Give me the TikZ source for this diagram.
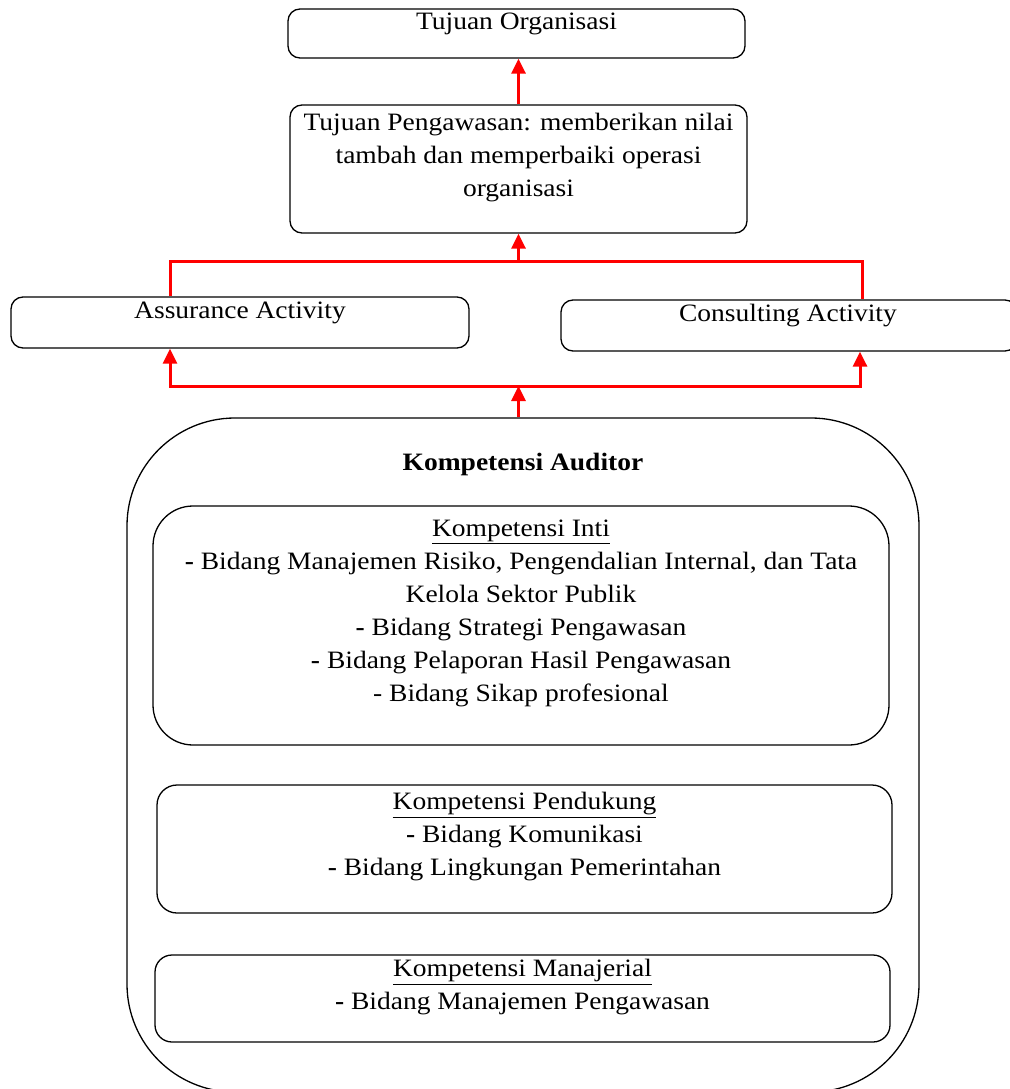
\documentclass[tikz,border=0pt]{standalone}
\usepackage{fontspec}
\setmainfont[FakeStretch=1.1]{Liberation Serif}
\usetikzlibrary{arrows.meta}

\begin{document}
\begin{tikzpicture}[x=1pt,y=-1pt,
  box/.style={draw, line width=1.3pt, rounded corners=12pt, inner sep=0pt},
  txt/.style={align=center, inner sep=0pt, font=\fontsize{25}{33}\selectfont},
  redline/.style={draw=red, line width=3pt},
  redarrow/.style={redline, -{Triangle[length=15pt,width=14pt]}}]
\useasboundingbox (0,0) rectangle (1009,1089);

% upper part
\node[box, minimum width=457pt, minimum height=49pt] (org) at (516.5,33.5) {};
\node[txt] (orgtxt) at (516.5,24) {Tujuan Organisasi};
\node[box, minimum width=457pt, minimum height=128pt] (goal) at (518.5,169) {};
\node[txt] (goaltxt) at (518.5,158) {Tujuan Pengawasan: memberikan nilai\\tambah dan memperbaiki operasi\\organisasi};
\node[box, minimum width=458pt, minimum height=51pt] (assur) at (240,322.5) {};
\node[txt] (assurtxt) at (240,313) {Assurance Activity};
\node[box, minimum width=456pt, minimum height=51pt] (consult) at (789,325.5) {};
\node[txt] (consulttxt) at (788,316) {Consulting Activity};

% kompetensi
\node[box, rounded corners=108pt, minimum width=792pt, minimum height=674pt] (komp) at (523,755) {};
\node[txt, font=\fontsize{25}{33}\selectfont\bfseries] (komptxt) at (523,464) {Kompetensi Auditor};
\node[box, rounded corners=40pt, minimum width=736pt, minimum height=239pt] (inti) at (521,625.5) {};
\node[txt] (intitxt) at (521,613) {\underline{Kompetensi Inti}\\
  \textbf{-} Bidang Manajemen Risiko, Pengendalian Internal, dan Tata\\
  Kelola Sektor Publik\\
  \textbf{-} Bidang Strategi Pengawasan\\
  \textbf{-} Bidang Pelaporan Hasil Pengawasan\\
  - Bidang Sikap profesional};
\node[box, rounded corners=20pt, minimum width=735pt, minimum height=128pt] (dukung) at (524.5,849) {};
\node[txt] (dukungtxt) at (524.5,837) {\underline{Kompetensi Pendukung}\\
  \textbf{-} Bidang Komunikasi\\
  \textbf{-} Bidang Lingkungan Pemerintahan};
\node[box, rounded corners=17pt, minimum width=735pt, minimum height=87pt] (manaj) at (522.5,998.5) {};
\node[txt] (manajtxt) at (522.5,987.5) {\underline{Kompetensi Manajerial}\\
  \textbf{-} Bidang Manajemen Pengawasan};

% red connectors
\coordinate (lt) at (170,261);
\coordinate (rt) at (862,261);
\coordinate (lb) at (170,386);
\coordinate (rb) at (860,386);
\draw[redarrow] (goal.north) -- (goal.north |- org.south);
\draw[redline] (lt |- assur.north) -- (lt) -- (rt) -- (rt |- consult.north);
\draw[redarrow] (goal.south |- lt) -- (goal.south);
\draw[redline, {Triangle[length=15pt,width=14pt]}-{Triangle[length=15pt,width=14pt]}]
  (lb |- assur.south) -- (lb) -- (rb) -- (rb |- consult.south);
\draw[redarrow] (goal.south |- komp.north) -- (goal.south |- lb);
\end{tikzpicture}
\end{document}
